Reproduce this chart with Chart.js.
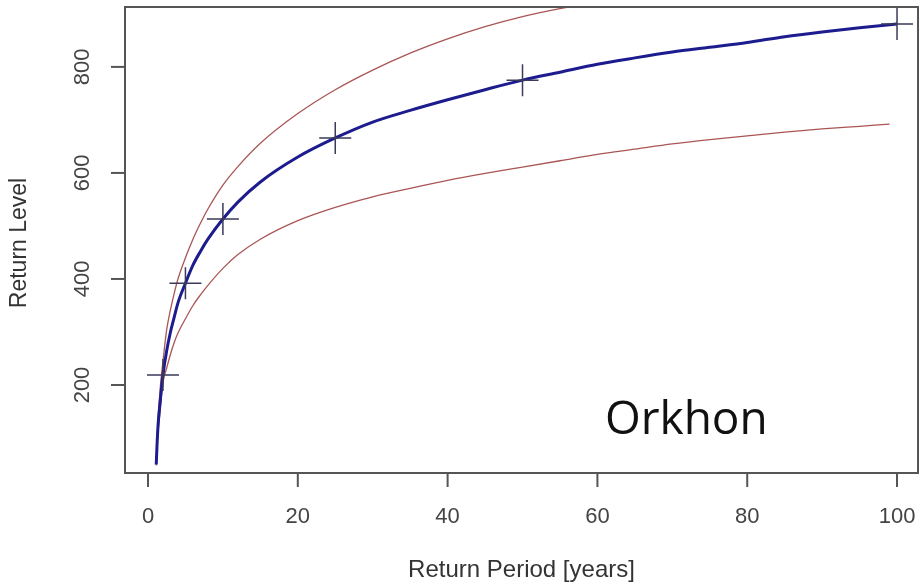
<!DOCTYPE html>
<html>
<head>
<meta charset="utf-8">
<script src="https://cdn.jsdelivr.net/npm/chart.js@4.4.1/dist/chart.umd.min.js"></script>
<style>
  body { margin: 0; background: #fff; }
  #wrap { width: 922px; height: 586px; }
</style>
</head>
<body>
<div id="wrap"><canvas id="myChart" width="922" height="586"></canvas></div>
<script>
// return periods (years) the curves were read at
const periods = [1.1, 1.2, 1.35, 1.5, 1.7, 2, 2.5, 3, 3.5, 4, 5, 6, 7, 8, 10, 12, 15, 20, 25, 30, 35, 40, 45, 50, 55, 60, 65, 70, 75, 80, 85, 90, 95, 100];
// fitted return level (blue)
const fitLevel = [50, 85, 125, 150, 180, 219, 265, 300, 328, 355, 392, 426, 452, 475, 513, 545, 583, 630, 666, 696, 718, 738, 757, 775, 790, 805, 817, 828, 837, 846, 857, 866, 874, 881];
// confidence bounds (red)
const upperPeriods = [1.1, 1.2, 1.35, 1.5, 1.7, 2, 2.5, 3, 3.5, 4, 5, 6, 7, 8, 10, 12, 15, 20, 25, 30, 35, 40, 45, 50, 55, 60];
const upperLevel = [52, 92, 138, 168, 205, 245, 305, 342, 373, 400, 440, 475, 505, 532, 577, 612, 656, 712, 757, 794, 826, 853, 876, 895, 910, 922];
const lowerPeriods = [1.1, 1.2, 1.35, 1.5, 1.7, 2, 2.5, 3, 3.5, 4, 5, 6, 7, 8, 10, 12, 15, 20, 25, 30, 35, 40, 45, 50, 55, 60, 65, 70, 75, 80, 85, 90, 95, 99];
const lowerLevel = [48, 80, 113, 135, 165, 205, 232, 258, 280, 298, 325, 350, 370, 388, 420, 446, 475, 510, 535, 555, 571, 586, 599, 611, 623, 635, 645, 655, 663, 670, 677, 683, 688, 692];
// empirical points (crosses)
const obsPeriods = [2, 5, 10, 25, 50, 100];
const obsLevel = [219, 392, 513, 666, 775, 881];
// axis ticks
const xTicks = [0, 20, 40, 60, 80, 100];
const yTicks = [200, 400, 600, 800];

const toXY = (xs, ys) => xs.map((x, i) => ({ x: x, y: ys[i] }));

// R style frame, ticks and titles drawn from the chart's scales
const rAxes = {
  id: 'rAxes',
  afterDraw(chart) {
    const ctx = chart.ctx;
    const a = chart.chartArea;
    const xs = chart.scales.x;
    const ys = chart.scales.y;
    ctx.save();
    ctx.strokeStyle = '#555';
    ctx.lineWidth = 2;
    ctx.strokeRect(a.left, a.top, a.right - a.left, a.bottom - a.top);

    ctx.fillStyle = '#444';
    ctx.font = '22px "Liberation Sans", Arial, sans-serif';
    ctx.textAlign = 'center';
    ctx.textBaseline = 'middle';
    xTicks.forEach(t => {
      const px = xs.getPixelForValue(t);
      ctx.beginPath();
      ctx.moveTo(px, a.bottom);
      ctx.lineTo(px, a.bottom + 14);
      ctx.stroke();
      ctx.fillText(String(t), px, a.bottom + 44);
    });
    yTicks.forEach(t => {
      const py = ys.getPixelForValue(t);
      ctx.beginPath();
      ctx.moveTo(a.left, py);
      ctx.lineTo(a.left - 14, py);
      ctx.stroke();
      ctx.save();
      ctx.translate(a.left - 42, py);
      ctx.rotate(-Math.PI / 2);
      ctx.fillText(String(t), 0, 0);
      ctx.restore();
    });

    ctx.fillStyle = '#333';
    ctx.font = '24px "Liberation Sans", Arial, sans-serif';
    ctx.fillText('Return Period [years]', (a.left + a.right) / 2, a.bottom + 97);
    ctx.font = '23px "Liberation Sans", Arial, sans-serif';
    ctx.save();
    ctx.translate(20, (a.top + a.bottom) / 2 + 3);
    ctx.rotate(-Math.PI / 2);
    ctx.fillText('Return Level', 0, 0);
    ctx.restore();

    // station name inside the plot
    ctx.fillStyle = '#111';
    ctx.font = '46px "Open Sans", sans-serif';
    ctx.textAlign = 'left';
    ctx.fillText('Orkhon', xs.getPixelForValue(61), ys.getPixelForValue(132));
    ctx.restore();
  }
};

const ctx = document.getElementById('myChart').getContext('2d');
const chart = new Chart(ctx, {
  type: 'scatter',
  data: {
    datasets: [
      {
        label: 'observed',
        data: toXY(obsPeriods, obsLevel),
        pointStyle: 'cross',
        pointRadius: 16,
        borderColor: '#3a3a5a',
        borderWidth: 1.5,
        showLine: false,
        order: 0
      },
      {
        label: 'fit',
        data: toXY(periods, fitLevel),
        showLine: true,
        borderColor: '#1c1c8e',
        borderWidth: 3,
        pointRadius: 0,
        cubicInterpolationMode: 'monotone',
        order: 1
      },
      {
        label: 'upper',
        data: toXY(upperPeriods, upperLevel),
        showLine: true,
        borderColor: 'rgb(170, 85, 85)',
        borderWidth: 1.3,
        pointRadius: 0,
        cubicInterpolationMode: 'monotone',
        order: 2
      },
      {
        label: 'lower',
        data: toXY(lowerPeriods, lowerLevel),
        showLine: true,
        borderColor: 'rgb(170, 85, 85)',
        borderWidth: 1.3,
        pointRadius: 0,
        cubicInterpolationMode: 'monotone',
        order: 3
      }
    ]
  },
  options: {
    responsive: false,
    animation: false,
    devicePixelRatio: 1,
    layout: { autoPadding: false, padding: { left: 125, top: 7, right: 4, bottom: 113 } },
    plugins: { legend: { display: false }, tooltip: { enabled: false } },
    scales: {
      x: { type: 'linear', min: -3.07, max: 102.8, display: false },
      y: { type: 'linear', min: 34, max: 913, display: false }
    }
  },
  plugins: [rAxes]
});
</script>
</body>
</html>
